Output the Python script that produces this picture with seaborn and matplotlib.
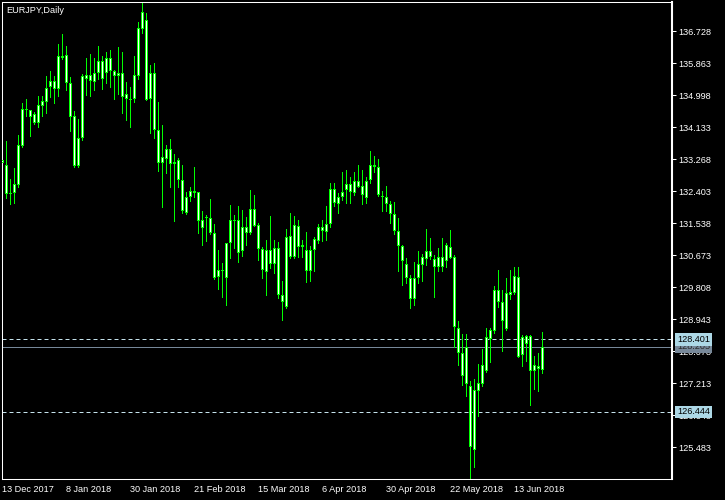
import numpy as np
import pandas as pd
import matplotlib
matplotlib.use("Agg")
import matplotlib.pyplot as plt
import matplotlib.transforms as mtransforms
import seaborn as sns

symbol = "EURJPY,Daily"

# daily OHLC, 13 Dec 2017 .. 22 Jun 2018
opens = [
    133.25, 133.12, 132.37, 132.37, 132.57, 133.63, 134.63, 134.60, 134.49, 134.26,
    134.72, 134.83, 135.23, 135.39, 135.16, 136.06, 136.09, 135.33, 134.43, 133.10,
    133.84, 135.54, 135.38, 135.60, 135.60, 135.93, 135.60, 136.00, 135.66, 135.52,
    135.60, 134.89, 134.90, 134.89, 135.53, 136.80, 137.03, 134.90, 135.60, 134.05,
    133.18, 133.29, 133.54, 133.14, 133.25, 132.71, 131.81, 132.24, 132.41, 132.38,
    131.62, 131.69, 131.68, 131.27, 130.08, 130.27, 130.06, 131.00, 131.63, 131.62,
    130.79, 131.43, 131.27, 131.92, 131.49, 130.84, 130.22, 130.81, 130.44, 130.87,
    129.60, 129.27, 131.21, 130.64, 131.46, 130.95, 130.81, 130.26, 130.81, 131.07,
    131.43, 131.30, 131.51, 132.46, 132.06, 132.25, 132.45, 132.60, 132.35, 132.68,
    132.54, 132.22, 132.71, 133.11, 133.06, 132.28, 132.24, 132.06, 131.79, 131.33,
    130.92, 130.44, 130.06, 129.49, 130.06, 130.41, 130.57, 130.79, 130.57, 130.35,
    130.62, 130.52, 130.91, 130.62, 128.71, 128.03, 128.21, 127.14, 125.41, 127.00,
    127.19, 127.54, 128.42, 128.62, 129.73, 129.41, 128.69, 129.67, 129.65, 130.08,
    127.98, 128.49, 128.49, 127.54, 127.68, 127.57,
]
highs = [
    133.34, 133.77, 132.74, 133.04, 133.93, 134.79, 134.89, 134.60, 134.56, 134.98,
    134.99, 135.52, 135.66, 135.52, 136.39, 136.66, 136.33, 135.50, 134.58, 134.36,
    135.58, 136.02, 136.12, 136.01, 136.33, 136.06, 136.17, 136.23, 135.69, 136.31,
    136.17, 135.36, 135.22, 136.06, 136.98, 137.51, 137.22, 135.81, 135.88, 134.82,
    134.19, 133.66, 133.82, 133.42, 133.31, 133.12, 132.38, 132.52, 133.06, 132.38,
    131.87, 131.76, 132.19, 131.51, 130.82, 130.46, 131.02, 132.03, 131.77, 132.01,
    131.90, 131.70, 132.44, 132.31, 131.54, 130.90, 131.09, 131.74, 131.09, 131.03,
    129.98, 131.39, 131.82, 131.73, 131.63, 131.09, 131.30, 130.93, 131.18, 131.52,
    131.63, 132.01, 132.63, 132.62, 132.35, 132.92, 132.98, 132.79, 132.92, 133.12,
    132.98, 132.79, 133.50, 133.36, 133.27, 132.40, 132.55, 132.15, 132.12, 131.69,
    130.95, 130.61, 130.14, 130.50, 130.79, 130.71, 131.39, 131.15, 130.68, 130.88,
    131.15, 131.00, 131.36, 130.69, 128.90, 128.55, 128.55, 127.28, 127.34, 127.74,
    128.15, 128.71, 128.71, 129.85, 130.28, 129.73, 130.06, 130.28, 130.36, 130.36,
    128.52, 128.52, 128.51, 127.96, 128.03, 128.61,
]
lows = [
    133.09, 132.23, 132.06, 132.10, 132.52, 133.59, 134.44, 133.91, 134.21, 134.15,
    134.45, 134.53, 134.94, 134.80, 134.99, 135.99, 135.13, 134.04, 133.06, 133.05,
    133.78, 135.01, 134.98, 135.15, 135.45, 135.18, 135.34, 135.21, 134.90, 135.04,
    134.53, 134.32, 134.13, 134.81, 135.44, 136.68, 134.86, 133.98, 133.85, 132.94,
    131.99, 132.91, 132.53, 131.61, 132.51, 131.81, 131.80, 132.13, 132.26, 131.29,
    130.94, 131.07, 131.26, 130.04, 129.76, 129.56, 129.34, 130.59, 130.86, 130.50,
    130.66, 130.96, 131.25, 131.46, 130.55, 130.06, 129.61, 130.34, 130.19, 129.51,
    128.93, 129.26, 130.59, 130.59, 130.62, 130.62, 129.96, 129.99, 130.24, 131.00,
    131.07, 131.09, 131.43, 132.02, 131.81, 132.17, 132.10, 132.10, 132.31, 132.52,
    132.05, 132.10, 132.62, 132.92, 132.28, 131.88, 131.86, 131.56, 131.26, 130.26,
    129.88, 129.92, 129.24, 129.34, 129.94, 129.99, 130.42, 130.57, 129.54, 130.24,
    130.24, 130.37, 130.59, 128.21, 127.71, 127.17, 126.86, 124.65, 124.96, 126.32,
    127.14, 127.53, 127.78, 128.57, 129.29, 128.10, 128.66, 129.50, 129.62, 127.92,
    127.69, 127.81, 126.64, 127.07, 127.00, 127.49,
]
closes = [
    133.17, 132.34, 132.32, 132.60, 133.65, 134.62, 134.59, 134.40, 134.26, 134.73,
    134.85, 135.19, 135.39, 135.16, 136.06, 136.02, 135.33, 134.42, 133.10, 133.84,
    135.52, 135.44, 135.54, 135.37, 135.93, 135.44, 136.00, 135.65, 135.52, 135.60,
    134.95, 135.03, 134.88, 135.54, 136.81, 137.25, 134.88, 135.60, 134.05, 133.18,
    133.33, 133.54, 133.14, 133.19, 132.71, 131.88, 132.24, 132.41, 132.37, 131.60,
    131.41, 131.67, 131.27, 130.06, 130.27, 130.25, 131.00, 131.62, 131.61, 130.73,
    131.43, 131.29, 131.92, 131.48, 130.84, 130.27, 130.81, 130.44, 130.86, 129.59,
    129.40, 131.16, 130.64, 131.49, 130.89, 130.91, 130.26, 130.81, 131.11, 131.43,
    131.34, 131.52, 132.46, 132.08, 132.26, 132.38, 132.60, 132.38, 132.68, 132.53,
    132.30, 132.69, 133.11, 133.07, 132.30, 132.26, 132.06, 131.79, 131.33, 130.92,
    130.52, 130.06, 129.49, 130.06, 130.44, 130.62, 130.79, 130.62, 130.35, 130.62,
    130.35, 130.95, 130.61, 128.73, 128.03, 127.42, 127.19, 125.49, 127.04, 127.22,
    127.71, 128.46, 128.65, 129.73, 129.42, 128.89, 129.65, 129.61, 130.12, 127.94,
    128.46, 128.27, 127.54, 127.71, 127.60, 128.205,
]

date_labels = ["13 Dec 2017", "8 Jan 2018", "30 Jan 2018", "21 Feb 2018", "15 Mar 2018",
               "6 Apr 2018", "30 Apr 2018", "22 May 2018", "13 Jun 2018"]
label_every = 16
price_ticks = [125.483, 126.348, 127.213, 128.078, 128.943, 129.808, 130.673,
               131.538, 132.403, 133.268, 134.133, 134.998, 135.863, 136.728]
level_prices = [128.401, 126.444]
bid_price = 128.205

sns.set_theme(style="dark", rc={
    "figure.facecolor": "black",
    "axes.facecolor": "black",
    "axes.edgecolor": "white",
    "text.color": "white",
    "xtick.color": "white",
    "ytick.color": "white",
    "axes.grid": False,
})
plt.rcParams["font.family"] = ["Liberation Sans", "DejaVu Sans"]

df = pd.DataFrame({"open": opens, "high": highs, "low": lows, "close": closes})
df["top"] = df[["open", "close"]].max(axis=1)
df["bot"] = df[["open", "close"]].min(axis=1)
x = np.arange(len(df))

fig = plt.figure(figsize=(7.25, 5), dpi=100)
ax = fig.add_axes([2 / 725, 21 / 500, 670 / 725, 477 / 500])
ylo, yhi = 124.63, 137.52
px = (yhi - ylo) / 477  # one pixel in price units

# levels
for lv in level_prices:
    ax.axhline(lv, color="#c4e2ec", lw=0.72, ls=(0, (4, 3)), zorder=1)
ax.axhline(bid_price, color="#778899", lw=0.72, zorder=1)

# candles: green wick, green body frame with white inside
ax.vlines(x, df["low"], df["high"], colors="#00ff00", lw=0.72, antialiased=False, zorder=2)
body_h = np.maximum(df["top"] - df["bot"], px)
ax.bar(x, body_h, bottom=df["bot"], width=0.75, color="#00ff00",
       linewidth=0, antialiased=False, zorder=3)
inner_h = np.clip(df["top"] - df["bot"] - 2 * px, 0, None)
ax.bar(x, inner_h, bottom=df["bot"] + px, width=0.25, color="white",
       linewidth=0, antialiased=False, zorder=4)

ax.set_xlim(-0.1, 167.4)
ax.set_ylim(ylo, yhi)

ax.yaxis.tick_right()
ax.set_yticks(price_ticks)
ax.set_yticklabels([f"{p:.3f}" for p in price_ticks])
ax.set_xticks(x[::label_every])
ax.set_xticklabels(date_labels, ha="left")
ax.tick_params(axis="both", length=3, width=0.75, labelsize=6.6, colors="white")
ax.tick_params(axis="y", pad=1.5)
ax.tick_params(axis="x", pad=1)
for side in ["left", "top", "bottom"]:
    ax.spines[side].set_linewidth(0.75)
ax.spines["right"].set_linewidth(1.5)

ax.text(0.007, 0.983, symbol, transform=ax.transAxes, color="white",
        fontsize=6.6, va="center", ha="left")

# price labels on the right scale
trans = mtransforms.blended_transform_factory(ax.transAxes, ax.transData)
ax.text(1.0075, bid_price, f"{bid_price:.3f}", transform=trans, ha="left", va="center",
        fontsize=6.6, color="#2a2a2a", clip_on=False, zorder=5,
        bbox=dict(boxstyle="square,pad=0.2", fc="#778899", ec="none"))
for lv in level_prices:
    ax.text(1.0075, lv, f"{lv:.3f}", transform=trans, ha="left", va="center",
            fontsize=6.6, color="black", clip_on=False, zorder=6,
            bbox=dict(boxstyle="square,pad=0.2", fc="#add8e6", ec="none"))

fig.savefig("out.png", dpi=100, facecolor="black")
